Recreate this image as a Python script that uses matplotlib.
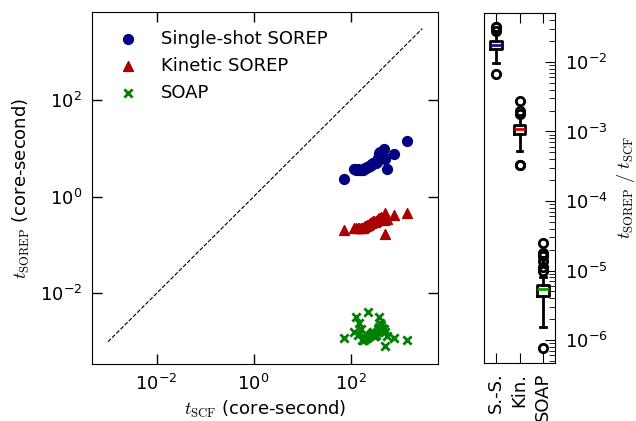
import numpy as np
import matplotlib
matplotlib.use("Agg")
import matplotlib.pyplot as plt
from matplotlib.ticker import NullLocator, LogLocator

plt.rcParams['mathtext.fontset'] = 'cm'
plt.rcParams['mathtext.rm'] = 'serif'
plt.rcParams['font.size'] = 13

# SCF wall time per structure (core-second)
t_scf = [73, 116, 128, 140, 150, 160, 170, 180, 190, 200, 210, 220,
         230, 240, 250, 260, 270, 280, 290, 300, 310, 320, 335, 350,
         365, 380, 390, 410, 430, 450, 480, 500, 510, 560, 780, 1450]

# descriptor cost (core-second)
t_single = [2.3, 3.7, 3.6, 3.8, 3.54, 3.52, 3.57, 3.6, 3.7, 3.88, 3.99, 4.07,
            4.14, 4.27, 4.38, 4.5, 4.64, 4.76, 4.87, 4.95, 4.96, 4.96, 5.0, 5.2,
            6.4, 7.0, 8.0, 8.6, 6.2, 6.3, 9.5, 6.0, 6.3, 3.8, 7.8, 14.0]
t_kinetic = [0.20, 0.23, 0.225, 0.23, 0.22, 0.22, 0.225, 0.23, 0.24, 0.245, 0.25, 0.255,
             0.26, 0.27, 0.28, 0.29, 0.30, 0.30, 0.31, 0.31, 0.30, 0.30, 0.32, 0.33,
             0.34, 0.36, 0.33, 0.37, 0.38, 0.35, 0.33, 0.47, 0.17, 0.34, 0.41, 0.47]
t_soap = [0.0012, 0.0016, 0.0032, 0.0014, 0.0025, 0.0018, 0.0011, 0.0011, 0.0011, 0.0012, 0.0012, 0.0012,
          0.0041, 0.0013, 0.0014, 0.0014, 0.0015, 0.0015, 0.0016, 0.0013, 0.0014, 0.0013, 0.0014, 0.0016,
          0.0018, 0.0020, 0.0032, 0.0025, 0.0022, 0.0019, 0.0018, 0.0016, 0.00080, 0.0013, 0.0012, 0.0011]

labels = ['Single-shot SOREP', 'Kinetic SOREP', 'SOAP']
short_labels = ['S.-S.', 'Kin.', 'SOAP']
colors = ['#000080', '#aa0000', 'green']
median_colors = ['#1010a0', '#dd0000', '#00a000']

scf = np.array(t_scf)
series = [np.array(t_single), np.array(t_kinetic), np.array(t_soap)]

fig = plt.figure(figsize=(6.36, 4.21), dpi=100)
ax = fig.add_axes([92 / 636, 1 - 364 / 421, 346 / 636, 352 / 421])
ax2 = fig.add_axes([484 / 636, 1 - 363 / 421, 71 / 636, 350 / 421])

ax.scatter(scf, series[0], c=colors[0], marker='o', s=50, label=labels[0])
ax.scatter(scf, series[1], c=colors[1], marker='^', s=50, label=labels[1])
ax.scatter(scf, series[2], c=colors[2], marker='x', s=35, linewidths=2, label=labels[2])
ax.plot([1e-3, 3e3], [1e-3, 3e3], 'k--', lw=0.8)

ax.set_xscale('log')
ax.set_yscale('log')
ax.set_xlim(10 ** -3.33, 10 ** 3.8)
ax.set_ylim(10 ** -3.46, 10 ** 3.82)
ax.set_xticks([1e-2, 1e0, 1e2])
ax.set_yticks([1e-2, 1e0, 1e2])
ax.xaxis.set_minor_locator(NullLocator())
ax.yaxis.set_minor_locator(NullLocator())
ax.tick_params(which='both', direction='in', top=True, right=True, length=7, width=1, pad=7)
ax.set_xlabel(r'$t_{\rm SCF}$ (core-second)', labelpad=4)
ax.set_ylabel(r'$t_{\rm SOREP}$ (core-second)', labelpad=6)
ax.legend(loc='upper left', frameon=False, handletextpad=0.8, borderaxespad=0.6)

# ratio panel
ratios = [s / scf for s in series]
bp = ax2.boxplot(ratios, positions=[1, 2, 3], widths=0.5,
                 boxprops=dict(lw=2), whiskerprops=dict(lw=2), capprops=dict(lw=2),
                 flierprops=dict(marker='o', mfc='none', mec='k', mew=2, ms=6))
for med, c in zip(bp['medians'], median_colors):
    med.set_color(c)
    med.set_linewidth(2)
ax2.set_yscale('log')
ax2.set_xlim(0.5, 3.5)
ax2.set_ylim(10 ** -6.33, 10 ** -1.296)
ax2.set_xticks([1, 2, 3])
ax2.set_xticklabels(short_labels, rotation=90)
ax2.yaxis.tick_right()
ax2.yaxis.set_label_position('right')
ax2.yaxis.set_major_locator(LogLocator(base=10, numticks=10))
ax2.yaxis.set_minor_locator(LogLocator(base=10, subs=np.arange(2, 10), numticks=10))
ax2.tick_params(axis='x', direction='in', top=True, length=7, pad=7)
ax2.tick_params(axis='y', which='major', direction='in', length=7, right=True, left=False, pad=7)
ax2.tick_params(axis='y', which='minor', direction='in', length=4, right=True, left=False)
ax2.set_ylabel(r'$t_{\rm SOREP}\ /\ t_{\rm SCF}$', labelpad=5)

fig.savefig('out.png', dpi=100)
